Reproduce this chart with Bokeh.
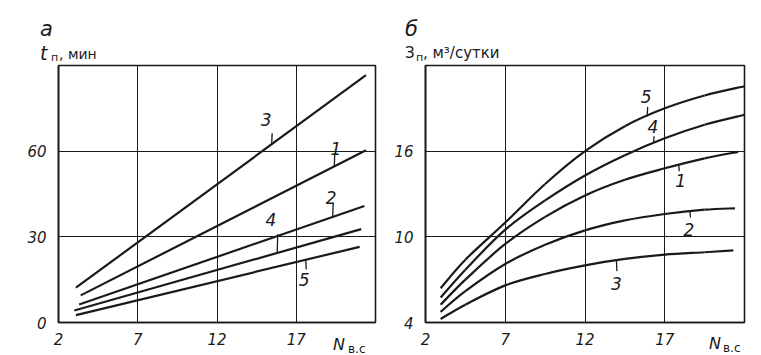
from bokeh.plotting import figure
from bokeh.layouts import row
from bokeh.models import Range1d, FixedTicker, Label, Div
from bokeh.embed import file_html
from bokeh.resources import INLINE
import numpy as np

# ---------------- data: panel а (t_п, min vs N_в.с) -- straight lines
a_ids = ["1", "2", "3", "4", "5"]
a_x_start = [3.4, 3.3, 3.1, 3.0, 3.1]
a_y_start = [9.5, 6.3, 12.2, 4.2, 2.6]
a_x_end = [21.4, 21.3, 21.4, 21.1, 21.0]
a_y_end = [60.3, 40.8, 86.6, 32.7, 26.5]
a_xticks = [2, 7, 12, 17]
a_yticks = [0, 30, 60]

# ---------------- data: panel б (З_п, m3/day vs N_в.с) -- curves
b_x_main = [2.95, 4.5, 7, 9.5, 12, 14.5, 17, 19.5]
b_x_last = {"1": 21.6, "2": 21.4, "3": 21.3, "4": 22.0, "5": 22.0}
b_curve_1 = [5.25, 7.0, 9.5, 11.4, 12.9, 14.0, 14.8, 15.5, 15.95]
b_curve_2 = [4.75, 6.2, 8.1, 9.45, 10.45, 11.15, 11.6, 11.9, 12.0]
b_curve_3 = [4.25, 5.25, 6.6, 7.4, 8.0, 8.45, 8.75, 8.92, 9.05]
b_curve_4 = [5.75, 7.7, 10.5, 12.55, 14.3, 15.72, 16.9, 17.85, 18.55]
b_curve_5 = [6.4, 8.4, 11.0, 13.7, 16.0, 17.75, 19.0, 19.9, 20.55]
b_xticks = [2, 7, 12, 17]
b_yticks = [4, 10, 16]

# ---------------- styling / annotation positions
FONT = "DejaVu Sans"
INK = "#1a1a1a"
LW = 2.2
H = 355

# label: (text, label x, label y, leader x, leader far-end y)
a_labels = [("3", 15.1, 71.1, 15.45, 66.3),
             ("1", 19.5, 61.0, 19.4, 59.3),
             ("2", 19.2, 43.6, 19.3, 41.5),
             ("4", 15.4, 36.1, 15.8, 30.9),
             ("5", 17.5, 15.2, 17.6, 18.6)]
b_labels = [("5", 15.83, 19.8, 15.9, 19.1),
            ("4", 16.25, 17.75, 16.3, 17.05),
            ("1", 18.0, 13.98, 17.88, 14.6),
            ("2", 18.52, 10.53, 18.58, 11.35),
            ("3", 13.97, 6.74, 13.97, 7.6)]

# outer texts: (text, left px, baseline px, font px, italic)
outer_texts = [("а", 35, 32, 21, True), ("t", 35, 55, 19, True), ("п", 46, 56, 11, False),
               (", мин", 54, 54, 14, False), ("N", 328, 345, 16, True), ("в.с", 343, 348, 12, False),
               ("б", 400, 32, 21, True), ("З", 400, 54, 15, False), ("п", 411, 56, 11, False),
               (", м³/сутки", 418, 54, 15, False), ("N", 704, 344, 16, True), ("в.с", 718, 347, 12, False)]


def base_fig(width, xr, yr, ticks_x, ticks_y, bl, br, bt, bb):
    p = figure(width=width, height=H, output_backend="svg", toolbar_location=None,
               x_range=Range1d(*xr), y_range=Range1d(*yr),
               min_border_left=bl, min_border_right=br, min_border_top=bt, min_border_bottom=bb)
    p.outline_line_color = INK
    p.outline_line_width = 1.6
    p.background_fill_color = "white"
    p.border_fill_color = "white"
    p.xaxis.ticker = FixedTicker(ticks=ticks_x)
    p.yaxis.ticker = FixedTicker(ticks=ticks_y)
    for ax in (p.xaxis, p.yaxis):
        ax.axis_line_color = INK
        ax.axis_line_width = 1.6
        ax.major_tick_line_color = None
        ax.minor_tick_line_color = None
        ax.major_label_text_font = FONT
        ax.major_label_text_font_style = "italic"
        ax.major_label_text_font_size = "15px"
        ax.major_label_text_color = INK
    p.xaxis.major_label_standoff = 4
    p.yaxis.major_label_standoff = 6
    p.grid.grid_line_color = INK
    p.grid.grid_line_width = 1.0
    p.grid.grid_line_alpha = 1.0
    return p


def txt(p, x, y, s, size):
    p.add_layout(Label(x=x, y=y, text=s, text_font=FONT, text_font_style="italic",
                       text_font_size=size, text_color=INK, text_align="center",
                       text_baseline="middle"))


def smooth(p, xs, ys, **kw):
    xs = np.asarray(xs, float)
    ys = np.asarray(ys, float)
    n = len(xs)
    x0, y0, x1, y1, cx0, cy0, cx1, cy1 = ([] for _ in range(8))
    for i in range(n - 1):
        ip = max(i - 1, 0)
        inx = min(i + 2, n - 1)
        x0.append(xs[i]); y0.append(ys[i]); x1.append(xs[i + 1]); y1.append(ys[i + 1])
        cx0.append(xs[i] + (xs[i + 1] - xs[ip]) / 6); cy0.append(ys[i] + (ys[i + 1] - ys[ip]) / 6)
        cx1.append(xs[i + 1] - (xs[inx] - xs[i]) / 6); cy1.append(ys[i + 1] - (ys[inx] - ys[i]) / 6)
    p.bezier(x0=x0, y0=y0, x1=x1, y1=y1, cx0=cx0, cy0=cy0, cx1=cx1, cy1=cy1, **kw)


# ---------------- panel а
pa = base_fig(390, (2, 22), (0, 90), a_xticks, a_yticks, 58, 15, 62, 33)
for i, cid in enumerate(a_ids):
    pa.line([a_x_start[i], a_x_end[i]], [a_y_start[i], a_y_end[i]], line_color=INK, line_width=LW)


def a_val(cid, x):
    i = a_ids.index(cid)
    return a_y_start[i] + (x - a_x_start[i]) * (a_y_end[i] - a_y_start[i]) / (a_x_end[i] - a_x_start[i])


for s, lx, ly, kx, ky in a_labels:
    txt(pa, lx, ly, s, "17px")
    pa.line([kx, kx + 0.03], [a_val(s, kx), ky], line_color=INK, line_width=1.3)

# ---------------- panel б
pb = base_fig(371, (2, 22), (4, 22), b_xticks, b_yticks, 35, 17, 65, 32)
b_curves = {"1": b_curve_1, "2": b_curve_2, "3": b_curve_3, "4": b_curve_4, "5": b_curve_5}
for cid, ys in b_curves.items():
    xs = b_x_main + [b_x_last[cid]]
    smooth(pb, xs, ys, line_color=INK, line_width=LW)


def b_val(cid, x):
    return float(np.interp(x, b_x_main + [b_x_last[cid]], b_curves[cid]))


for s, lx, ly, kx, ky in b_labels:
    txt(pb, lx, ly, s, "17px")
    pb.line([kx, kx + 0.03], [b_val(s, kx), ky], line_color=INK, line_width=1.3)

# ---------------- texts outside the plot frames (HTML overlay)
spans = []
for s, left, base, fs, it in outer_texts:
    top = base - 0.845 * fs
    style = ("position:absolute;left:%dpx;top:%.1fpx;font-size:%dpx;line-height:1;white-space:nowrap;%s"
             % (left, top, fs, "font-style:italic;" if it else ""))
    spans.append('<span style="%s">%s</span>' % (style, s))
html = ('<div style="position:relative;width:761px;height:355px;font-family:\'DejaVu Sans\';color:%s">%s</div>'
        % (INK, "".join(spans)))
overlay = Div(text=html, width=761, height=H,
              styles={"position": "absolute", "left": "0px", "top": "0px", "pointer-events": "none"})

layout = row(pa, pb, overlay)
open("out.html", "w").write(file_html(layout, INLINE))
